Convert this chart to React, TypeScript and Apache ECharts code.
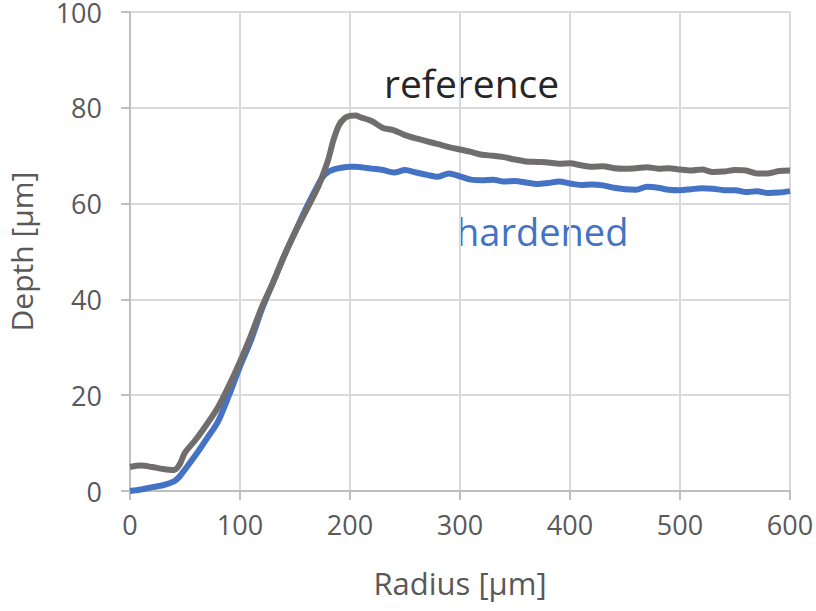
import React, { useEffect, useRef } from "react";
import * as echarts from "echarts";

const radius = [0, 10, 20, 30, 40, 45, 50, 60, 70, 80, 90, 100, 110, 120, 130, 140, 150, 160, 170, 175, 180, 185, 190, 195, 200, 205, 210, 220, 230, 240, 250, 260, 270, 280, 290, 300, 310, 320, 330, 340, 350, 360, 370, 380, 390, 400, 410, 420, 430, 440, 450, 460, 470, 480, 490, 500, 510, 520, 530, 540, 550, 560, 570, 580, 590, 600];

const referenceDepth = [5.0, 5.3, 5.0, 4.6, 4.4, 5.5, 8.0, 10.8, 14, 17.5, 22, 27, 32.5, 38.5, 43.5, 49, 54, 58.5, 63, 65.8, 69, 73.3, 76.4, 77.8, 78.3, 78.4, 78, 77.2, 75.8, 75.3, 74.3, 73.6, 73, 72.4, 71.8, 71.3, 70.8, 70.2, 70, 69.7, 69.2, 68.8, 68.7, 68.6, 68.3, 68.4, 68, 67.7, 67.8, 67.4, 67.3, 67.4, 67.6, 67.3, 67.4, 67.1, 66.9, 67.1, 66.6, 66.7, 67.0, 66.9, 66.3, 66.3, 66.8, 66.9];

const hardenedDepth = [0, 0.3, 0.8, 1.2, 2, 3, 4.5, 7.6, 11, 14.5, 20, 26, 31.5, 38, 43.5, 49, 54, 59, 63.5, 65.5, 66.6, 67.1, 67.4, 67.6, 67.7, 67.7, 67.6, 67.3, 67, 66.5, 67, 66.5, 66, 65.6, 66.3, 65.7, 65, 64.9, 65.0, 64.6, 64.7, 64.4, 64.1, 64.3, 64.6, 64.2, 63.9, 64, 63.8, 63.3, 63, 62.9, 63.5, 63.3, 62.9, 62.8, 63.0, 63.2, 63.1, 62.8, 62.8, 62.4, 62.6, 62.2, 62.3, 62.6];

const seriesNames = ["reference", "hardened"];
const xTicks = [0, 100, 200, 300, 400, 500, 600];
const yTicks = [0, 20, 40, 60, 80, 100];

const FONT = "'Open Sans', 'Noto Sans', sans-serif";

export default function App() {
  const ref = useRef<HTMLDivElement>(null);
  useEffect(() => {
    if (!ref.current) return;
    const chart = echarts.init(ref.current, null, { renderer: "svg" });
    const pair = (ys: number[]) => radius.map((x, i) => [x, ys[i]]);
    chart.setOption({
      animation: false,
      backgroundColor: "#ffffff",
      grid: { left: 130, right: 26, top: 12, bottom: 120, outerBoundsMode: "none", containLabel: false },
      xAxis: {
        type: "value",
        min: xTicks[0],
        max: xTicks[xTicks.length - 1],
        interval: 100,
        name: "Radius [μm]",
        nameLocation: "middle",
        nameGap: 76,
        nameTextStyle: { fontFamily: FONT, fontSize: 31, color: "#595959" },
        axisLine: { show: true, lineStyle: { color: "#BFBFBF", width: 2 } },
        axisTick: { show: true, length: 9, lineStyle: { color: "#BFBFBF", width: 2 } },
        axisLabel: { fontFamily: FONT, fontSize: 27, color: "#595959", margin: 20 },
        splitLine: { show: true, lineStyle: { color: "#D9D9D9", width: 2 } },
      },
      yAxis: {
        type: "value",
        min: yTicks[0],
        max: yTicks[yTicks.length - 1],
        interval: 20,
        name: "Depth [μm]",
        nameLocation: "middle",
        nameGap: 94,
        nameTextStyle: { fontFamily: FONT, fontSize: 30, color: "#595959" },
        axisLine: { show: true, lineStyle: { color: "#BFBFBF", width: 2 } },
        axisTick: { show: true, length: 9, lineStyle: { color: "#BFBFBF", width: 2 } },
        axisLabel: { fontFamily: FONT, fontSize: 27, color: "#595959", margin: 28 },
        splitLine: { show: true, lineStyle: { color: "#D9D9D9", width: 2 } },
      },
      series: [
        {
          name: seriesNames[1],
          type: "line",
          data: pair(hardenedDepth),
          showSymbol: false,
          symbol: "none",
          smooth: 0.3,
          lineStyle: { color: "#4472C4", width: 6 },
          z: 2,
        },
        {
          name: seriesNames[0],
          type: "line",
          data: pair(referenceDepth),
          showSymbol: false,
          symbol: "none",
          smooth: 0.3,
          lineStyle: { color: "#706D6D", width: 6 },
          z: 3,
        },
      ],
      graphic: [
        {
          type: "text",
          left: 384,
          top: 63,
          style: { text: seriesNames[0], fontFamily: FONT, fontSize: 39, fill: "#262626" },
        },
        {
          type: "text",
          left: 456,
          top: 212,
          style: { text: seriesNames[1], fontFamily: FONT, fontSize: 38, fill: "#4472C4" },
        },
      ],
    });
    return () => chart.dispose();
  }, []);
  return <div ref={ref} style={{ width: 816, height: 611, position: "absolute", left: 0, top: 0 }} />;
}
